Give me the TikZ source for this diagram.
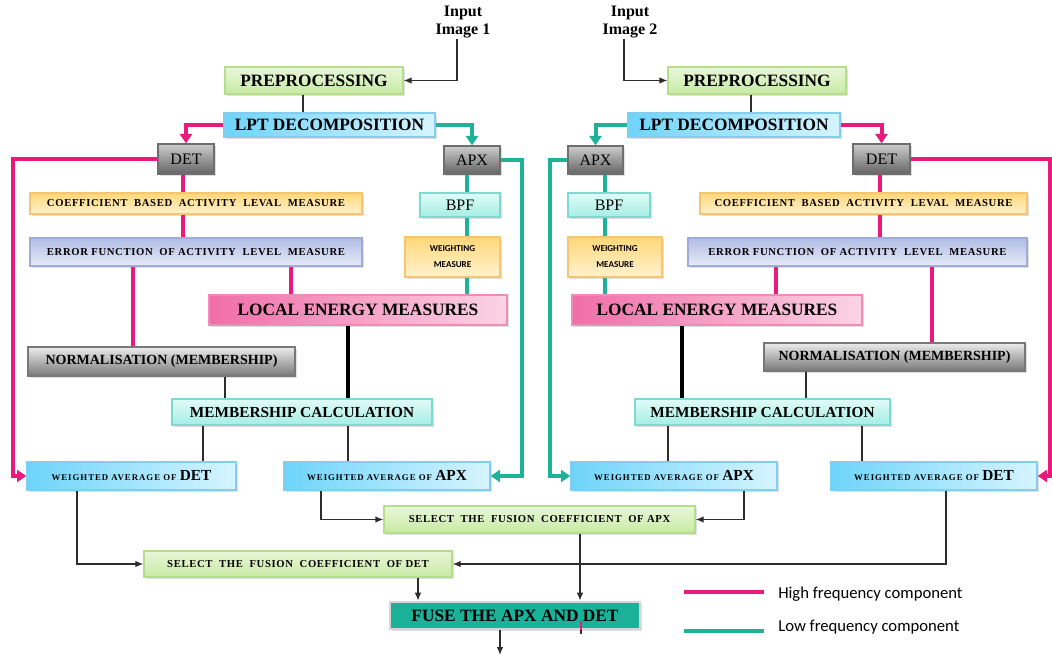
\documentclass[tikz,border=0pt]{standalone}
\usepackage{fontspec}
\setmainfont{Liberation Serif}
\newfontfamily\legendfont{Carlito}
\usetikzlibrary{arrows.meta,shadows}

\definecolor{hfpink}{RGB}{234,26,124}
\definecolor{lfteal}{RGB}{30,178,152}
\definecolor{fusefill}{RGB}{27,178,154}
\definecolor{linegray}{RGB}{45,45,45}

\newcommand{\tinycaps}{\fontsize{8}{9}\selectfont\addfontfeatures{LetterSpace=6}}
\newcommand{\wavg}[1]{{\fontsize{6.6}{8}\selectfont\addfontfeatures{LetterSpace=11}WEIGHTED AVERAGE OF}\ {\fontsize{11.5}{12}\selectfont #1}}

\tikzset{
  size/.style 2 args={minimum width=#1*0.75pt, minimum height=#2*0.75pt},
  box/.style={draw, rectangle, inner sep=0pt, line width=1pt, align=center,
    font=\bfseries\fontsize{13}{15}\selectfont,
    drop shadow={shadow xshift=1.3pt, shadow yshift=-1.3pt, opacity=0.25}},
  greenbox/.style={box, draw={rgb,255:red,180;green,222;blue,140}, top color={rgb,255:red,232;green,247;blue,216}, bottom color={rgb,255:red,200;green,234;blue,164}},
  bluebox/.style={box, draw={rgb,255:red,130;green,206;blue,238}, left color={rgb,255:red,110;green,212;blue,250}, right color={rgb,255:red,214;green,244;blue,255}},
  graybox/.style={box, draw={rgb,255:red,120;green,120;blue,120}, top color={rgb,255:red,236;green,236;blue,236}, bottom color={rgb,255:red,120;green,120;blue,120}},
  darkbox/.style={box, draw={rgb,255:red,110;green,110;blue,110}, top color={rgb,255:red,205;green,205;blue,205}, bottom color={rgb,255:red,100;green,100;blue,100}, font=\fontsize{12}{13}\selectfont},
  yellowbox/.style={box, draw={rgb,255:red,246;green,198;blue,110}, top color={rgb,255:red,255;green,215;blue,120}, bottom color={rgb,255:red,255;green,242;blue,208}},
  lavbox/.style={box, draw={rgb,255:red,160;green,172;blue,214}, top color={rgb,255:red,176;green,188;blue,228}, bottom color={rgb,255:red,232;green,235;blue,248}},
  tealbox/.style={box, draw={rgb,255:red,126;green,218;blue,208}, top color={rgb,255:red,226;green,251;blue,248}, bottom color={rgb,255:red,164;green,238;blue,228}},
  pinkbox/.style={box, draw={rgb,255:red,240;green,140;blue,184}, left color={rgb,255:red,240;green,110;blue,168}, right color={rgb,255:red,251;green,212;blue,229}},
  fusebox/.style={box, draw={rgb,255:red,214;green,214;blue,214}, line width=2pt, fill=fusefill},
  inlabel/.style={align=center, inner sep=1pt, font=\bfseries\fontsize{12}{13}\selectfont},
  hf/.style={draw=hfpink, line width=3pt},
  lf/.style={draw=lfteal, line width=3pt},
  conn/.style={draw=linegray, line width=1pt},
  flow/.style={conn, -{Latex[length=6pt,width=5pt]}},
  cflow/.style={-{Triangle[length=7pt,width=9pt]}},
}

\begin{document}
\begin{tikzpicture}[x=0.75pt, y=-0.75pt]
\useasboundingbox (0,0) rectangle (1052,659);

% Entradas
\node[inlabel] (in1) at (463,22) {Input\\Image 1};
\node[inlabel] (in2) at (630,22) {Input\\Image 2};

% Rama izquierda
\node[greenbox, size={178}{27}] (pre1) at (314,80.5) {PREPROCESSING};
\node[bluebox, size={211}{24}] (lpt1) at (329.5,125) {LPT DECOMPOSITION};
\node[darkbox, size={56}{30}] (det1) at (186,159) {DET};
\node[darkbox, size={56}{28}] (apx1) at (472,160) {APX};
\node[yellowbox, size={332}{21}, font=\bfseries\tinycaps] (coef1) at (196,203.5) {COEFFICIENT\ \ BASED\ \ ACTIVITY\ \ LEVAL\ \ MEASURE};
\node[lavbox, size={332}{28}, font=\bfseries\tinycaps] (err1) at (196,252) {ERROR\ FUNCTION\ \ OF\ ACTIVITY\ \ LEVEL\ \ MEASURE};
\node[tealbox, size={80}{24}, font=\fontsize{12}{13}\selectfont] (bpf1) at (460,205) {BPF};
\node[yellowbox, size={95}{40}, font=\legendfont\bfseries\fontsize{6.8}{12}\selectfont] (wm1) at (452.5,257) {WEIGHTING\\MEASURE};
\node[pinkbox, size={298}{30}] (lem1) at (358,310) {LOCAL ENERGY MEASURES};
\node[graybox, size={267}{29}, font=\bfseries\fontsize{10.5}{12}\selectfont] (norm1) at (161.5,361.5) {NORMALISATION (MEMBERSHIP)};
\node[tealbox, size={260}{26}, font=\bfseries\fontsize{11.5}{13}\selectfont] (mc1) at (302,412) {MEMBERSHIP CALCULATION};
\node[bluebox, size={209}{28}, font=\bfseries] (wad1) at (131.5,476) {\wavg{DET}};
\node[bluebox, size={206}{28}, font=\bfseries] (waa1) at (387,476) {\wavg{APX}};

% Rama derecha
\node[greenbox, size={178}{27}] (pre2) at (757,80.5) {PREPROCESSING};
\node[bluebox, size={212}{24}] (lpt2) at (734,125) {LPT DECOMPOSITION};
\node[darkbox, size={55}{28}] (apx2) at (595.5,160) {APX};
\node[darkbox, size={57}{30}] (det2) at (881.5,159) {DET};
\node[tealbox, size={82}{24}, font=\fontsize{12}{13}\selectfont] (bpf2) at (609,205) {BPF};
\node[yellowbox, size={94}{40}, font=\legendfont\bfseries\fontsize{6.8}{12}\selectfont] (wm2) at (615,257) {WEIGHTING\\MEASURE};
\node[yellowbox, size={327}{21}, font=\bfseries\tinycaps] (coef2) at (863.5,203.5) {COEFFICIENT\ \ BASED\ \ ACTIVITY\ \ LEVAL\ \ MEASURE};
\node[lavbox, size={339}{28}, font=\bfseries\tinycaps] (err2) at (857.5,252) {ERROR\ FUNCTION\ \ OF\ ACTIVITY\ \ LEVEL\ \ MEASURE};
\node[pinkbox, size={290}{30}] (lem2) at (717,310) {LOCAL ENERGY MEASURES};
\node[graybox, size={261}{28}, font=\bfseries\fontsize{10.5}{12}\selectfont] (norm2) at (894.5,357) {NORMALISATION (MEMBERSHIP)};
\node[tealbox, size={255}{26}, font=\bfseries\fontsize{11.5}{13}\selectfont] (mc2) at (762.5,412) {MEMBERSHIP CALCULATION};
\node[bluebox, size={206}{28}, font=\bfseries] (waa2) at (674,476) {\wavg{APX}};
\node[bluebox, size={206}{28}, font=\bfseries] (wad2) at (934,476) {\wavg{DET}};

% Fusion
\node[greenbox, size={311}{27}, font=\bfseries\tinycaps] (selapx) at (539.5,519.5) {SELECT\ \ THE\ \ FUSION\ \ COEFFICIENT\ \ OF\ APX};
\node[greenbox, size={308}{26}, font=\bfseries\tinycaps] (seldet) at (298,564) {SELECT\ \ THE\ \ FUSION\ \ COEFFICIENT\ \ OF\ DET};
\node[fusebox, size={250}{27}] (fuse) at (515,615.5) {FUSE THE APX AND DET};
\coordinate (out) at (500,655);

% Leyenda
\coordinate (hfa) at (684,592);
\coordinate (hfb) at (764,592);
\coordinate (lfa) at (684,631);
\coordinate (lfb) at (764,631);
\node[anchor=west, inner sep=0pt, font=\legendfont\fontsize{12.5}{14}\selectfont] (hflab) at (778,594) {High frequency component};
\node[anchor=west, inner sep=0pt, font=\legendfont\fontsize{12.5}{14}\selectfont] (lflab) at (778,627) {Low frequency component};
\draw[hf, line width=2.3pt] (hfa) -- (hfb);
\draw[lf, line width=2.3pt] (lfa) -- (lfb);

% Conexiones izquierda
\draw[flow] (in1.south -| 457,0) |- (pre1.east);
\draw[conn] (pre1.south -| 303,0) -- (lpt1.north -| 303,0);
\draw[hf, cflow] (lpt1.west) -| (det1.north);
\draw[lf, cflow] (lpt1.east) -| (apx1.north);
\draw[hf, cflow] (det1.west) -| (13,476) -- (wad1.west);
\draw[lf, cflow] (apx1.east) -| (522,476) -- (waa1.east);
\draw[hf] (det1.south -| 183,0) -- (coef1.north -| 183,0);
\draw[hf] (coef1.south -| 183,0) -- (err1.north -| 183,0);
\draw[hf] (err1.south -| 133,0) -- (norm1.north -| 133,0);
\draw[hf] (err1.south -| 291,0) -- (lem1.north -| 291,0);
\draw[lf] (apx1.south -| 467,0) -- (bpf1.north -| 467,0);
\draw[lf] (bpf1.south -| 467,0) -- (wm1.north -| 467,0);
\draw[lf] (wm1.south -| 467,0) -- (lem1.north -| 467,0);
\draw[conn, line width=2.6pt, draw=black] (lem1.south -| 348,0) -- (mc1.north -| 348,0);
\draw[conn] (norm1.south -| 225,0) -- (mc1.north -| 225,0);
\draw[conn] (mc1.south -| 203,0) -- (wad1.north -| 203,0);
\draw[conn] (mc1.south -| 348,0) -- (waa1.north -| 348,0);
\draw[flow] (waa1.south -| 321,0) |- (selapx.west);
\draw[flow] (wad1.south -| 77,0) |- (seldet.west);

% Conexiones derecha
\draw[flow] (in2.south -| 624,0) |- (pre2.west);
\draw[conn] (pre2.south -| 751,0) -- (lpt2.north -| 751,0);
\draw[lf, cflow] (lpt2.west) -| (apx2.north);
\draw[hf, cflow] (lpt2.east) -| (det2.north);
\draw[lf, cflow] (apx2.west) -| (550,476) -- (waa2.west);
\draw[hf, cflow] (det2.east) -| (1050,476) -- (wad2.east);
\draw[lf] (apx2.south -| 605,0) -- (bpf2.north -| 605,0);
\draw[lf] (bpf2.south -| 605,0) -- (wm2.north -| 605,0);
\draw[lf] (wm2.south -| 605,0) -- (lem2.north -| 605,0);
\draw[hf] (det2.south -| 880,0) -- (coef2.north -| 880,0);
\draw[hf] (coef2.south -| 880,0) -- (err2.north -| 880,0);
\draw[hf] (err2.south -| 776,0) -- (lem2.north -| 776,0);
\draw[hf] (err2.south -| 932,0) -- (norm2.north -| 932,0);
\draw[conn, line width=2.6pt, draw=black] (lem2.south -| 682,0) -- (mc2.north -| 682,0);
\draw[conn] (norm2.south -| 806,0) -- (mc2.north -| 806,0);
\draw[conn] (mc2.south -| 668,0) -- (waa2.north -| 668,0);
\draw[conn] (mc2.south -| 862,0) -- (wad2.north -| 862,0);
\draw[flow] (waa2.south -| 744,0) |- (selapx.east);
\draw[flow] (wad2.south -| 946,0) |- (seldet.east);

% Hacia la fusion
\draw[flow] (seldet.south -| 418,0) -- (fuse.north -| 418,0);
\draw[flow] (selapx.south -| 580,0) -- (fuse.north -| 580,0);
\draw[hfpink, line width=1.5pt] (fuse.south -| 581,0) ++(0,-9) -- (fuse.south -| 581,0);
\draw[conn, line width=1.5pt] (fuse.south -| 581,0) -- ++(0,4);
\draw[flow] (fuse.south -| 500,0) -- (out);
\end{tikzpicture}
\end{document}
